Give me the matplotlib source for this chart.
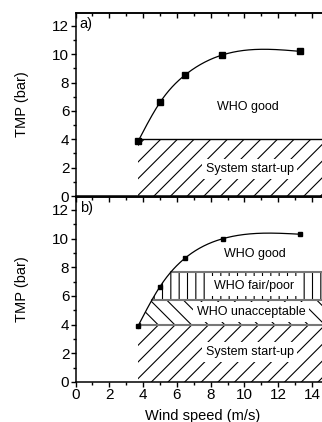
import matplotlib
matplotlib.use("Agg")
import matplotlib.pyplot as plt
import numpy as np
from matplotlib.ticker import MultipleLocator, NullFormatter

plt.rcParams["font.family"] = ["Liberation Sans", "DejaVu Sans"]
plt.rcParams["hatch.linewidth"] = 0.8

# measured points (wind speed m/s, TMP bar)
wind_a = [3.7, 5.0, 6.5, 8.7, 13.3]
tmp_a = [3.85, 6.6, 8.55, 9.95, 10.2]
wind_b = [3.7, 5.0, 6.5, 8.75, 13.3]
tmp_b = [3.9, 6.65, 8.65, 10.0, 10.3]

# WHO band limits (bar)
startup_top = 4.0
unacc_top = 5.75
fair_top = 7.7

XMAX = 15.0
YMAX = 12.9

fig = plt.figure(figsize=(3.22, 4.22), dpi=100)
ax_a = fig.add_axes([0.2345, 0.5355, 0.787, 0.4335])
ax_b = fig.add_axes([0.2345, 0.0948, 0.787, 0.4385])


def spline(xs, ys, n=300):
    # natural cubic spline through the points
    x = np.asarray(xs, float)
    y = np.asarray(ys, float)
    h = np.diff(x)
    m = len(x)
    A = np.zeros((m, m))
    r = np.zeros(m)
    A[0, 0] = A[-1, -1] = 1
    for i in range(1, m - 1):
        A[i, i - 1] = h[i - 1]
        A[i, i] = 2 * (h[i - 1] + h[i])
        A[i, i + 1] = h[i]
        r[i] = 6 * ((y[i + 1] - y[i]) / h[i] - (y[i] - y[i - 1]) / h[i - 1])
    M = np.linalg.solve(A, r)
    xx = np.linspace(x[0], x[-1], n)
    k = np.clip(np.searchsorted(x, xx) - 1, 0, m - 2)
    t0 = x[k + 1] - xx
    t1 = xx - x[k]
    hk = h[k]
    yy = (M[k] * t0 ** 3 + M[k + 1] * t1 ** 3) / (6 * hk) \
        + (y[k] / hk - M[k] * hk / 6) * t0 + (y[k + 1] / hk - M[k + 1] * hk / 6) * t1
    return xx, yy


def band(ax, xx, yy, lo, hi, hatch):
    # region right of the curve, between lo and hi
    xg = np.linspace(xx[0], XMAX, 600)
    yc = np.interp(xg, xx, np.maximum.accumulate(yy), right=yy.max())
    top = np.clip(yc, lo, hi)
    ax.fill_between(xg, lo, top, where=yc >= lo, facecolor="none",
                    edgecolor="black", hatch=hatch, linewidth=0)


def style(ax, label, show_x):
    ax.set_xlim(0, XMAX)
    ax.set_ylim(0, YMAX)
    ax.xaxis.set_major_locator(MultipleLocator(2))
    ax.xaxis.set_minor_locator(MultipleLocator(1))
    ax.yaxis.set_major_locator(MultipleLocator(2))
    ax.yaxis.set_minor_locator(MultipleLocator(1))
    ax.tick_params(which="both", direction="out", top=False, right=False,
                   labelsize=11, width=1, pad=1)
    ax.tick_params(which="major", length=3.5)
    ax.tick_params(which="minor", length=2)
    # top axis: ticks pointing inward, no labels
    sec = ax.secondary_xaxis("top")
    sec.xaxis.set_major_locator(MultipleLocator(2))
    sec.xaxis.set_minor_locator(MultipleLocator(1))
    sec.xaxis.set_major_formatter(NullFormatter())
    sec.tick_params(which="both", direction="in", width=1)
    sec.tick_params(which="major", length=3.5)
    sec.tick_params(which="minor", length=2)
    sec.spines["top"].set_linewidth(1.1)
    for s in ax.spines.values():
        s.set_linewidth(1.1)
    ax.set_ylabel("TMP (bar)", fontsize=10.5, labelpad=17)
    if not show_x:
        ax.tick_params(labelbottom=False)
    ax.text(0.25, YMAX - 0.25, label, fontsize=10.5, ha="left", va="top")


box = dict(facecolor="white", edgecolor="none", boxstyle="square,pad=0.3")

# panel a
xx, yy = spline(wind_a, tmp_a)
band(ax_a, xx, yy, 0, startup_top, "//")
ax_a.plot([wind_a[0], XMAX], [startup_top, startup_top], color="black", lw=1)
ax_a.plot(xx, yy, color="black", lw=0.9)
ax_a.plot(wind_a, tmp_a, "s", color="black", ms=4.5)
ax_a.text(10.2, 6.3, "WHO good", fontsize=9, ha="center", va="center")
ax_a.text(10.3, 1.9, "System start-up", fontsize=9, ha="center", va="center",
          bbox=box)
style(ax_a, "a)", False)

# panel b
xx, yy = spline(wind_b, tmp_b)
band(ax_b, xx, yy, 0, startup_top, "//")
band(ax_b, xx, yy, startup_top, unacc_top, "\\\\")
band(ax_b, xx, yy, unacc_top, fair_top, "||")
for lvl in (startup_top, unacc_top, fair_top):
    x0 = max(wind_b[0], np.interp(lvl, np.maximum.accumulate(yy), xx))
    ax_b.plot([x0, XMAX], [lvl, lvl], color="#777777", lw=1.5)
ax_b.plot(xx, yy, color="black", lw=0.9)
ax_b.plot(wind_b, tmp_b, "s", color="black", ms=3.2)
ax_b.text(10.6, 8.9, "WHO good", fontsize=9, ha="center", va="center")
ax_b.text(10.55, 6.7, "WHO fair/poor", fontsize=9, ha="center", va="center",
          bbox=box)
ax_b.text(10.4, 4.87, "WHO unacceptable", fontsize=9, ha="center",
          va="center", bbox=box)
ax_b.text(10.3, 2.08, "System start-up", fontsize=9, ha="center",
          va="center", bbox=box)
style(ax_b, "b)", True)
ax_b.set_xlabel("Wind speed (m/s)", fontsize=10.5, labelpad=5)

fig.savefig("out.png", dpi=100)
